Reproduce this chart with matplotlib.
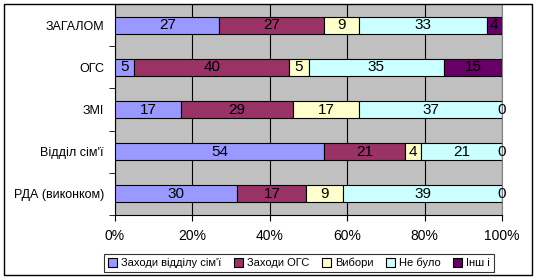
import matplotlib
matplotlib.use('Agg')
import matplotlib.pyplot as plt
import numpy as np
from matplotlib.patches import Rectangle

plt.rcParams['font.family'] = ['Liberation Sans', 'DejaVu Sans']

# categories from top to bottom
categories = ['ЗАГАЛОМ', 'ОГС', 'ЗМІ', "Відділ сім'ї", 'РДА (виконком)']
series_names = ["Заходи відділу сім'ї", 'Заходи ОГС', 'Вибори', 'Не було', 'Інші']
vid_simi = [27, 5, 17, 54, 30]
zahody_ogs = [27, 40, 29, 21, 17]
vybory = [9, 5, 17, 4, 9]
ne_bulo = [33, 35, 37, 21, 39]
inshi = [4, 15, 0, 0, 0]
colors = ['#9999FF', '#993366', '#FFFFCC', '#CCFFFF', '#660066']
legend_labels = ["Заходи відділу сім'ї", 'Заходи ОГС', 'Вибори', 'Не було', 'Інш і']

data = np.array([vid_simi, zahody_ogs, vybory, ne_bulo, inshi], dtype=float)
totals = data.sum(axis=0)
pct = data / totals * 100

fig = plt.figure(figsize=(5.38, 2.8), dpi=100)
ax = fig.add_axes([115/538, 1-215/280, (502-115)/538, (215-4)/280])
ax.set_facecolor('#C0C0C0')

y = np.arange(len(categories))
left = np.zeros(len(categories))
for i in range(len(series_names)):
    ax.barh(y, pct[i], left=left, height=0.4, color=colors[i],
            edgecolor='black', linewidth=0.8, label=legend_labels[i], zorder=3)
    for j in range(len(categories)):
        ax.text(left[j] + pct[i][j] / 2, y[j], '%d' % data[i][j],
                ha='center', va='center', fontsize=11, color='black', zorder=4)
    left = left + pct[i]

ax.set_xlim(0, 100)
ax.set_ylim(len(categories) - 0.5, -0.5)
ax.set_xticks([0, 20, 40, 60, 80, 100])
ax.set_xticklabels(['0%', '20%', '40%', '60%', '80%', '100%'], fontsize=10)
ax.set_yticks(y)
ax.set_yticklabels(categories, fontsize=9)
ax.set_yticks(np.arange(-0.5, len(categories)), minor=True)
ax.tick_params(axis='y', which='major', length=0, pad=8)
ax.tick_params(axis='y', which='minor', length=4, direction='out')
ax.tick_params(axis='x', length=4, direction='out', pad=6)
ax.grid(axis='x', color='black', linewidth=0.8, zorder=1)
ax.set_axisbelow(True)
ax.spines['top'].set_visible(False)
ax.spines['right'].set_color('#808080')

leg = fig.legend(loc='lower center', bbox_to_anchor=(299/538, 8/280), ncol=5,
                 fontsize=8, frameon=True, fancybox=False, edgecolor='black',
                 handlelength=0.8, handleheight=0.8, handletextpad=0.4,
                 columnspacing=1.1, borderpad=0.35, borderaxespad=0)
leg.get_frame().set_linewidth(0.8)

fig.patches.append(Rectangle((4/538, 5/280), 528/538, 271/280, transform=fig.transFigure,
                             fill=False, edgecolor='black', linewidth=1))

fig.savefig('out.png', dpi=100)
